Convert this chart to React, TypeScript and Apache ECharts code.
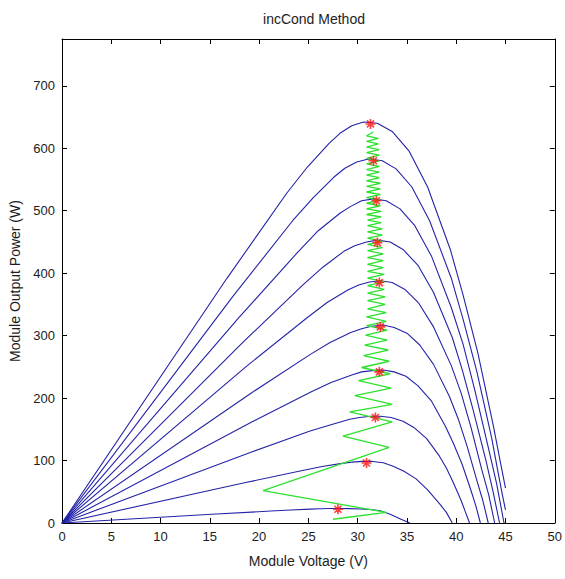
import React, { useEffect, useRef } from "react";
import * as echarts from "echarts";

const chartTitle = "incCond Method";
const xName = "Module Voltage (V)";
const yName = "Module Output Power (W)";

// P-V curves (voltage V, power W), highest irradiance first
const curve1 = [[0,0],[16.7,391],[22.8,528],[24.9,570],[27.1,608],[28.2,624],[29.4,636],[30.6,642],[32.0,640],[33.5,627],[35.2,596],[37.1,538],[39.4,438],[40.7,365],[42.2,272],[43.8,153],[44.5,96],[45.0,56]];
const curve2 = [[0,0],[17.3,362],[23.4,484],[25.5,521],[27.6,554],[28.7,568],[29.9,578],[31.1,583],[32.5,580],[33.9,567],[35.5,538],[37.3,484],[39.5,392],[40.7,326],[42.1,242],[43.6,136],[44.2,85],[44.7,44],[45.0,21]];
const curve3 = [[0,0],[17.9,328],[24.0,435],[26.0,468],[28.2,496],[29.3,507],[30.4,516],[31.6,519],[32.9,516],[34.3,503],[35.8,476],[37.5,427],[39.5,345],[40.7,286],[41.9,212],[43.3,118],[44.1,63],[44.85,0]];
const curve4 = [[0,0],[18.4,290],[24.5,382],[26.5,410],[28.6,435],[29.7,444],[30.9,450],[32.0,453],[33.3,450],[34.6,438],[36.1,413],[37.7,369],[39.6,297],[40.6,246],[41.7,182],[43.0,101],[43.7,53],[44.4,0]];
const curve5 = [[0,0],[18.8,252],[24.9,329],[26.9,353],[29.0,373],[30.1,381],[31.2,386],[32.3,388],[33.5,385],[34.8,374],[36.2,352],[37.7,314],[39.5,252],[40.5,208],[41.5,153],[42.6,85],[43.3,45],[43.9,0]];
const curve6 = [[0,0],[19.1,207],[25.2,270],[27.2,289],[29.3,305],[30.4,311],[31.4,315],[32.6,317],[33.7,313],[35.0,304],[36.3,285],[37.7,254],[39.3,203],[40.2,167],[41.1,123],[42.1,68],[42.7,36],[43.25,0]];
const curve7 = [[0,0],[19.3,162],[25.3,210],[27.3,225],[29.4,237],[30.4,242],[31.5,244],[32.6,245],[33.7,242],[34.9,235],[36.1,220],[37.5,195],[38.9,155],[39.7,128],[40.6,94],[41.5,52],[42.0,27],[42.45,0]];
const curve8 = [[0,0],[19.1,113],[25.1,147],[27.2,157],[29.2,166],[30.2,169],[31.3,171],[32.3,171],[33.4,169],[34.6,163],[35.7,153],[37.0,135],[38.3,107],[39.0,88],[39.7,65],[40.5,36],[40.9,19],[41.35,0]];
const curve9 = [[0,0],[18.4,64],[24.4,84],[26.4,90.5],[28.4,95.5],[29.4,97.4],[30.5,98.7],[31.5,98.6],[32.6,96.5],[33.6,91],[34.7,83],[35.9,71],[37.1,53],[38.3,31],[39.0,17],[39.6,0]];
const curve10 = [[0,0],[15.2,13.9],[21.2,19.2],[23.2,20.8],[25.2,22.2],[26.2,22.8],[27.2,23.1],[28.2,23.2],[29.2,23.0],[30.2,22.3],[31.3,21.5],[32.3,19.5],[33.3,14],[34.4,6],[35.3,0]];
const curves = [curve1, curve2, curve3, curve4, curve5, curve6, curve7, curve8, curve9, curve10];

// MPPT operating-point trace
const mpptTrace = [
  [27.5,6],[32.9,17],[20.4,52],[33.2,121],[28.5,139],[33.5,162],[29.2,178],[33.5,190],[29.7,204],[33.4,216],
  [30.1,228],[33.3,239],[30.4,249],[33.2,259],[30.6,268],[33.1,277],[30.7,285],[33.0,293],[30.8,301],[33.0,309],
  [30.9,316],[32.9,323],[30.9,330],[32.9,337],[31.0,343],[32.8,350],[31.0,356],[32.8,362],[31.0,368],[32.7,374],
  [31.0,380],[32.7,386],[31.0,392],[32.7,398],[31.0,403],[32.6,409],[31.0,414],[32.6,420],[31.0,425],[32.6,431],
  [31.0,436],[32.5,441],[31.0,446],[32.5,451],[31.0,456],[32.5,461],[31.0,466],[32.5,471],[31.0,476],[32.4,481],
  [31.0,485],[32.4,490],[30.9,494],[32.4,499],[30.9,503],[32.3,508],[30.9,512],[32.3,517],[30.9,521],[32.3,526],
  [30.9,530],[32.3,535],[30.9,539],[32.3,544],[30.9,548],[32.2,553],[30.9,557],[32.2,562],[30.9,566],[32.2,571],
  [30.9,575],[32.2,580],[30.9,584],[32.2,589],[30.9,593],[32.2,598],[30.9,602],[32.1,607],[30.9,611],[32.1,616],
  [30.9,620],[31.6,626]
];

// maximum power points found
const mppV = [31.3, 31.6, 31.9, 32.0, 32.2, 32.3, 32.2, 31.8, 30.9, 28.0];
const mppP = [639, 580, 516, 449, 385, 314, 242, 169, 96, 22];

const xMin = 0, xMax = 50, xStep = 5;
const yMin = 0, yMax = 775, yStep = 100;

const textColor = "#1c1c1c";
const font = "Liberation Sans";

export default function App() {
  const ref = useRef<HTMLDivElement>(null);
  useEffect(() => {
    document.body.style.margin = "0";
    const chart = echarts.init(ref.current!, null, { renderer: "svg" });
    const axisLine = { show: true, onZero: false, lineStyle: { color: "#000", width: 1 } };
    const tick = { show: true, inside: true, length: 5, lineStyle: { color: "#000", width: 1 } };
    const option: any = {
      animation: false,
      backgroundColor: "#fff",
      title: {
        text: chartTitle,
        left: 309,
        textAlign: "center",
        top: 7,
        textStyle: { fontSize: 14, fontWeight: "normal", color: textColor, fontFamily: font },
      },
      grid: { left: 62, right: 9, top: 39, bottom: 56 },
      xAxis: [
        {
          type: "value", min: xMin, max: xMax, interval: xStep, position: "bottom",
          axisLine, axisTick: tick, splitLine: { show: false },
          axisLabel: { fontSize: 13, color: textColor, fontFamily: font, margin: 7 },
          name: xName, nameLocation: "middle", nameGap: 31,
          nameTextStyle: { fontSize: 14, color: textColor, fontFamily: font },
        },
        {
          type: "value", min: xMin, max: xMax, interval: xStep, position: "top",
          axisLine, axisTick: tick, splitLine: { show: false }, axisLabel: { show: false },
        },
      ],
      yAxis: [
        {
          type: "value", min: yMin, max: yMax, interval: yStep, position: "left",
          axisLine, axisTick: tick, splitLine: { show: false },
          axisLabel: {
            fontSize: 13, color: textColor, fontFamily: font, margin: 7,
            formatter: (v: number) => (v % 100 === 0 ? String(v) : ""),
          },
          name: yName, nameLocation: "middle", nameGap: 38,
          nameTextStyle: { fontSize: 14, color: textColor, fontFamily: font },
        },
        {
          type: "value", min: yMin, max: yMax, interval: yStep, position: "right",
          axisLine, axisTick: tick, splitLine: { show: false }, axisLabel: { show: false },
        },
      ],
      series: [
        ...curves.map((c) => ({
          type: "line", data: c, xAxisIndex: 0, yAxisIndex: 0, showSymbol: false,
          lineStyle: { color: "#2323a8", width: 1.1 }, z: 2,
        })),
        {
          type: "line", data: mpptTrace, xAxisIndex: 0, yAxisIndex: 0, showSymbol: false,
          lineStyle: { color: "#2ee02e", width: 1.3 }, z: 3,
        },
        {
          type: "scatter", xAxisIndex: 0, yAxisIndex: 0,
          data: mppV.map((v, i) => [v, mppP[i]]),
          symbol: "path://M5,0 L5,10 M0,5 L10,5 M1.5,1.5 L8.5,8.5 M1.5,8.5 L8.5,1.5",
          symbolSize: 10,
          itemStyle: { color: "rgba(0,0,0,0)", borderColor: "#ff1010", borderWidth: 1.6 },
          z: 4,
        },
      ],
    };
    chart.setOption(option);
    return () => chart.dispose();
  }, []);
  return <div ref={ref} style={{ width: 565, height: 579 }} />;
}
